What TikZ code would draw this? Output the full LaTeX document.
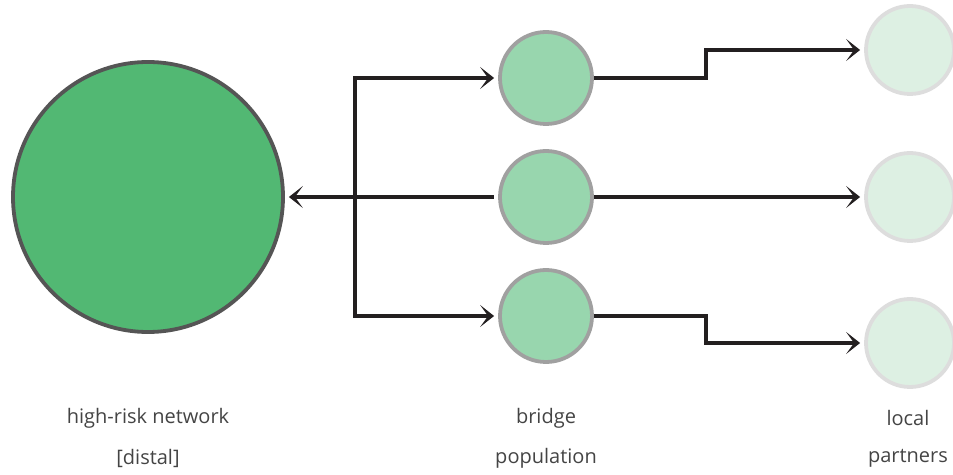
\documentclass[tikz,border=0pt]{standalone}
\usepackage{fontspec}
\setmainfont{Open Sans}
\usepackage{xcolor}
\usetikzlibrary{arrows.meta}
\definecolor{hrfill}{RGB}{82,184,115}
\definecolor{hrline}{RGB}{85,85,85}
\definecolor{brfill}{RGB}{152,214,174}
\definecolor{brline}{RGB}{160,160,160}
\definecolor{lpfill}{RGB}{221,240,227}
\definecolor{lpline}{RGB}{221,221,221}
\definecolor{ink}{RGB}{35,31,32}
\definecolor{txt}{RGB}{68,68,68}

\begin{document}
\begin{tikzpicture}[x=1pt, y=1pt, line width=3.2pt,
    tip/.tip={Stealth[length=14pt, width=22pt, inset=8pt]},
    arr/.style={ink, -tip, shorten >=4pt},
    lab/.style={text=txt, font=\fontsize{20}{24}\selectfont}]
    \useasboundingbox (0,0) rectangle (953,474);

    \node[circle, draw=hrline, fill=hrfill, line width=3.8pt, minimum size=270pt] (hr) at (148,277) {};
    \node[circle, draw=brline, fill=brfill, line width=3.8pt, minimum size=92pt] (b1) at (546,396) {};
    \node[circle, draw=brline, fill=brfill, line width=3.8pt, minimum size=92pt] (b2) at (546,277) {};
    \node[circle, draw=brline, fill=brfill, line width=3.8pt, minimum size=92pt] (b3) at (546,158) {};
    \node[circle, draw=lpline, fill=lpfill, line width=3.8pt, minimum size=88pt] (p1) at (910,424) {};
    \node[circle, draw=lpline, fill=lpfill, line width=3.8pt, minimum size=88pt] (p2) at (910,277) {};
    \node[circle, draw=lpline, fill=lpfill, line width=3.8pt, minimum size=88pt] (p3) at (910,131) {};

    \coordinate (split) at (355,277);
    \coordinate (kink) at (706,277);

    \draw[arr, tip-, shorten <=4pt] (hr) -- (b2);
    \draw[arr] (split) |- (b1);
    \draw[arr] (split) |- (b3);

    \draw[arr] (b1) -- (b1 -| kink) |- (p1);
    \draw[arr] (b2) -- (p2);
    \draw[arr] (b3) -- (b3 -| kink) |- (p3);

    \node[lab] (hrt) at (148,56) {high-risk network};
    \node[lab] (hrb) at (148,16) {[distal]};
    \node[lab] (brt) at (546,56) {bridge};
    \node[lab] (brb) at (546,16) {population};
    \node[lab] (lpt) at (908,56) {local};
    \node[lab] (lpb) at (908,16) {partners};
  \end{tikzpicture}
\end{document}
